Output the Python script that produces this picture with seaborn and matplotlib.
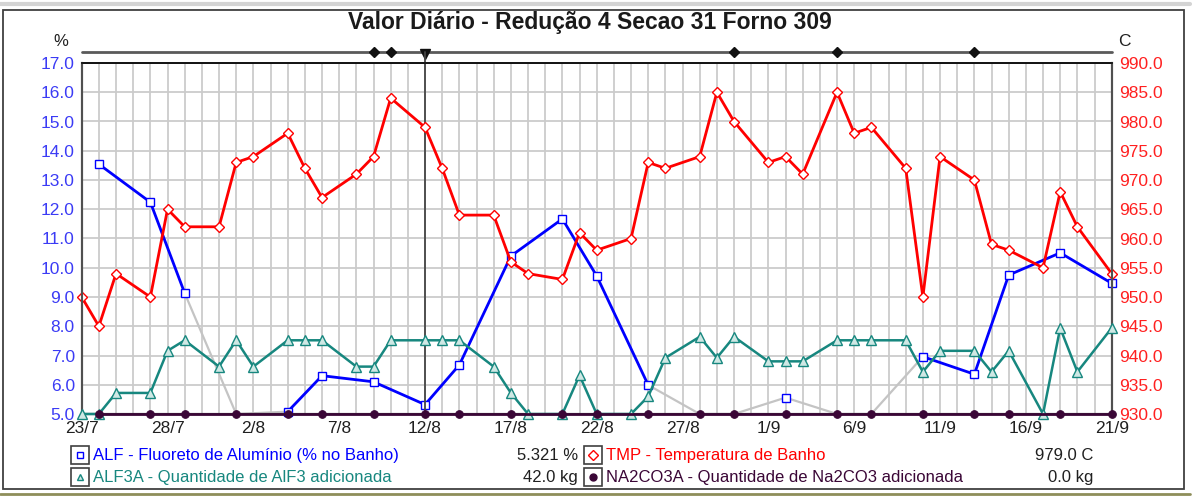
import numpy as np
import pandas as pd
import matplotlib
matplotlib.use("Agg")
import matplotlib.pyplot as plt
import seaborn as sns
from matplotlib.lines import Line2D
from matplotlib.patches import Rectangle

# ---- data (day offset from 23/7) ----
start_date = pd.Timestamp("2000-07-23")

tmp_days = [0, 1, 2, 4, 5, 6, 8, 9, 10, 12, 13, 14, 16, 17, 18, 20, 21, 22, 24, 25, 26, 28, 29, 30,
            32, 33, 34, 36, 37, 38, 40, 41, 42, 44, 45, 46, 48, 49, 50, 52, 53, 54, 56, 57, 58, 60]
tmp_vals = [950, 945, 954, 950, 965, 962, 962, 973, 974, 978, 972, 967, 971, 974, 984, 979, 972, 964,
            964, 956, 954, 953, 961, 958, 960, 973, 972, 974, 985, 980, 973, 974, 971, 985, 978, 979,
            972, 950, 974, 970, 959, 958, 955, 968, 962, 954]

alf3_days = tmp_days
alf3_kg = [0, 0, 12, 12, 36, 42, 27, 42, 27, 42, 42, 42, 27, 27, 42, 42, 42, 42, 27, 12, 0, 0, 22, 0,
           0, 10, 32, 44, 32, 44, 30, 30, 30, 42, 42, 42, 42, 24, 36, 36, 24, 36, 0, 49, 24, 49]

alf_days = [1, 4, 6, 9, 12, 14, 17, 20, 22, 25, 28, 30, 33, 36, 38, 41, 44, 46, 49, 52, 54, 57, 60]
alf_vals = [13.54, 12.24, 9.13, 0.0, 5.08, 6.31, 6.10, 5.321, 6.68, 10.40, 11.67, 9.72, 5.99, 0.0,
            0.0, 5.56, 0.0, 0.0, 6.96, 6.36, 9.75, 10.51, 9.47]

na2co3_days = alf_days
na2co3_kg = [0.0] * len(na2co3_days)

event_days = [17, 18, 38, 44, 52]
cursor_day = 20

legend_rows = [
    ("ALF - Fluoreto de Alumínio (% no Banho)", "5.321 %", "TMP - Temperatura de Banho", "979.0 C"),
    ("ALF3A - Quantidade de AlF3 adicionada", "42.0 kg", "NA2CO3A - Quantidade de Na2CO3 adicionada", "0.0 kg"),
]

BLUE, RED, TEAL, PURPLE, GRAY = "#0000ff", "#ff0000", "#17877f", "#3a0636", "#c4c4c4"

sns.set_style("white")
plt.rcParams['font.family'] = ['Liberation Sans', 'DejaVu Sans']

W, H = 1204, 498
def fx(x): return x / W
def fy(y): return 1 - y / H

fig = plt.figure(figsize=(W / 100, H / 100), dpi=100)
x0, x1, y0, y1 = 81.7, 1111.7, 63, 414
ax = fig.add_axes([fx(x0), fy(y1), (x1 - x0) / W, (y1 - y0) / H])
ax_t = ax.twinx()
ax_kg = ax.twinx()

# ALF: valid readings in blue, gaps (zero readings) in gray
alf = pd.DataFrame({"day": alf_days, "val": alf_vals})
ok = (alf["val"] > 0).to_numpy()
alf["run"] = np.cumsum(~ok)
seg_bad = ~(ok[:-1] & ok[1:])
gid = np.cumsum(~seg_bad)
rows = []
for i in np.where(seg_bad)[0]:
    rows.append((gid[i], alf_days[i], alf_vals[i]))
    rows.append((gid[i], alf_days[i + 1], alf_vals[i + 1]))
gray = pd.DataFrame(rows, columns=["grp", "day", "val"]).drop_duplicates()
gray["val"] = gray["val"].clip(lower=5.0)

sns.lineplot(data=gray, x="day", y="val", units="grp", estimator=None, ax=ax,
             color=GRAY, lw=1.6, clip_on=False)
sns.lineplot(data=alf[ok], x="day", y="val", units="run", estimator=None, ax=ax,
             color=BLUE, lw=2.0, marker="s", markersize=5.5, markerfacecolor="white",
             markeredgecolor=BLUE, markeredgewidth=1.0, clip_on=False)

sns.lineplot(x=tmp_days, y=tmp_vals, ax=ax_t, color=RED, lw=2.0, marker="D", markersize=5.5,
             markerfacecolor="white", markeredgecolor=RED, markeredgewidth=1.0, clip_on=False)

sns.lineplot(x=alf3_days, y=alf3_kg, ax=ax_kg, color=TEAL, lw=1.8, marker="^", markersize=7,
             markerfacecolor="#cfe8e4", markeredgecolor=TEAL, markeredgewidth=1.0, clip_on=False)
sns.lineplot(x=na2co3_days, y=na2co3_kg, ax=ax_kg, color=PURPLE, lw=2.0, marker="o", markersize=5.5,
             markerfacecolor=PURPLE, markeredgecolor=PURPLE, clip_on=False)

# axes scales
ax.set_xlim(0, 60)
ax.set_ylim(5, 17)
ax_t.set_ylim(930, 990)
ax_kg.set_ylim(0, 200)
ax_kg.axis("off")

ticks = list(range(0, 61, 5))
ax.set_xticks(ticks)
ax.set_xticklabels([f"{d.day}/{d.month}" for d in (start_date + pd.to_timedelta(ticks, "D"))])
ax.set_xticks(range(0, 61), minor=True)
ax.set_yticks(np.arange(5, 17.5, 1))
ax.set_yticklabels([f"{v:.1f}" for v in np.arange(5, 17.5, 1)])
ax_t.set_yticks(np.arange(930, 991, 5))
ax_t.set_yticklabels([f"{v:.1f}" for v in np.arange(930, 991, 5)])
for a in (ax, ax_t):
    a.set_xlabel("")
    a.set_ylabel("")

ax.grid(which="both", axis="x", color="#cbcbcb", lw=1.3)
ax.grid(which="major", axis="y", color="#cbcbcb", lw=1.3)
ax.tick_params(axis="x", which="both", length=0, pad=5, labelsize=12.5, labelcolor="#202020")
ax.tick_params(axis="y", length=0, pad=5, labelsize=12.5, labelcolor="#3b3bf5")
ax_t.tick_params(axis="y", length=0, pad=5, labelsize=12.5, labelcolor="#ff2020")

for a in (ax, ax_t):
    for s in a.spines.values():
        s.set_color("#505050")
        s.set_linewidth(1.5)
    a.spines["top"].set_color("#101010")
    a.spines["top"].set_linewidth(1.2)

# event strip above the plot and the cursor
strip_y = 1.031
trans = ax.get_xaxis_transform()
ax.plot([0, 60], [strip_y, strip_y], transform=trans, color="#5a5a5a", lw=2.0, clip_on=False)
ax.plot(event_days, [strip_y] * len(event_days), transform=trans, ls="none", marker="D",
        markersize=5, color="#111111", clip_on=False)
ax.plot([cursor_day, cursor_day], [0, strip_y], transform=trans, color="#454545", lw=1.3,
        clip_on=False, zorder=5)
ax.plot([cursor_day], [strip_y - 0.004], transform=trans, marker="v", markersize=7,
        color="#111111", clip_on=False)

# texts
fig.text(fx(590), fy(22), "Valor Diário - Redução 4 Secao 31 Forno 309", ha="center", va="center",
         fontsize=16.5, fontweight="bold", color="#1a1a1a")
fig.text(fx(61), fy(41), "%", ha="center", va="center", fontsize=12, color="#202020")
fig.text(fx(1124), fy(41), "C", ha="center", va="center", fontsize=12.5, color="#202020")

# legend
legend_style = [
    [("s", BLUE, "white", BLUE), ("D", RED, "white", RED)],
    [("^", TEAL, "#cfe8e4", TEAL), ("o", PURPLE, PURPLE, PURPLE)],
]
row_y = [455, 477]
box_x = [71, 584]
text_x = [93, 606]
val_x = [578, 1093]
for r, (lab1, v1, lab2, v2) in enumerate(legend_rows):
    for c, (lab, val) in enumerate([(lab1, v1), (lab2, v2)]):
        m, col, mfc, mec = legend_style[r][c]
        bx, by = box_x[c], row_y[r] - 9
        fig.add_artist(Rectangle((fx(bx), fy(by + 18)), 18 / W, 18 / H, transform=fig.transFigure,
                                 fill=False, edgecolor="#404040", lw=1.2))
        fig.add_artist(Line2D([fx(bx + 9)], [fy(row_y[r])], transform=fig.transFigure, marker=m,
                              markersize=5, markerfacecolor=mfc, markeredgecolor=mec, ls="none"))
        fig.text(fx(text_x[c]), fy(row_y[r]), lab, ha="left", va="center", fontsize=12, color=col)
        fig.text(fx(val_x[c]), fy(row_y[r]), val, ha="right", va="center", fontsize=12,
                 color="#202020")

# window frame
fig.add_artist(Rectangle((fx(3), fy(489)), (1184 - 3) / W, (489 - 10) / H, transform=fig.transFigure,
                         fill=False, edgecolor="#404040", lw=1.3))
fig.add_artist(Line2D([0, fx(1190)], [fy(4), fy(4)], transform=fig.transFigure, color="#d4d4d4", lw=3))
fig.add_artist(Line2D([0, fx(1190)], [fy(494), fy(494)], transform=fig.transFigure, color="#8e8e5a", lw=2))

fig.savefig("out.png", dpi=100)
plt.close(fig)
